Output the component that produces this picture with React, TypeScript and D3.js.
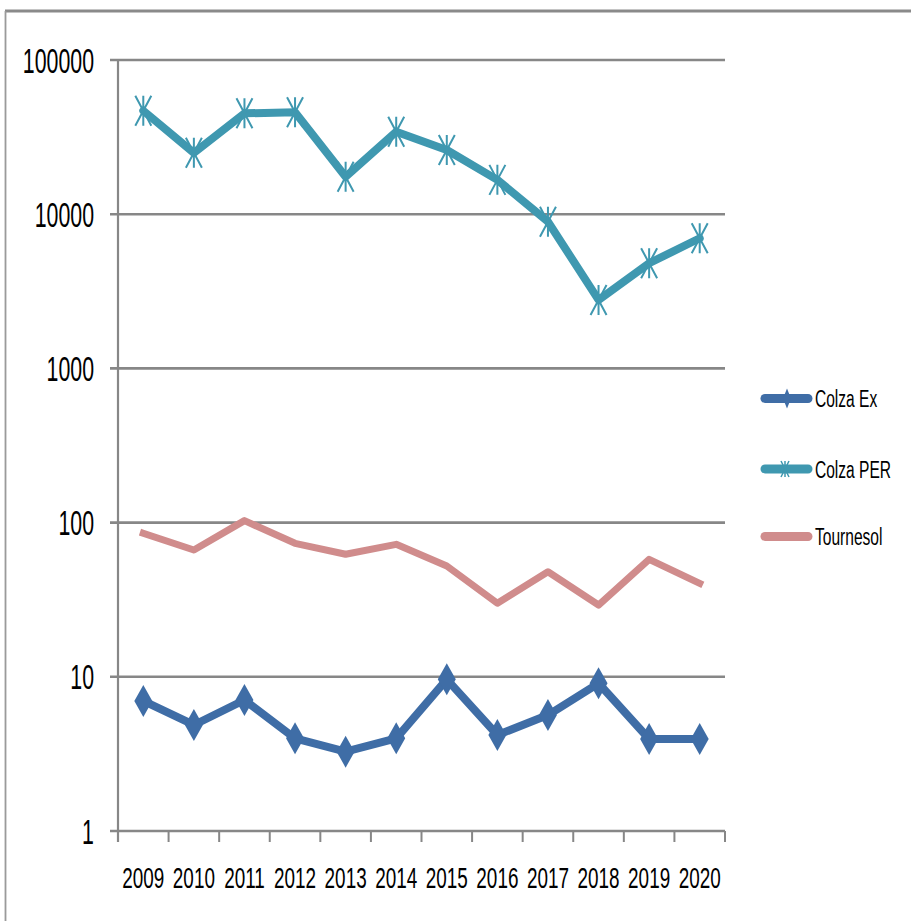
import React from 'react';
import * as d3 from 'd3';

const years = ['2009', '2010', '2011', '2012', '2013', '2014', '2015', '2016', '2017', '2018', '2019', '2020'];
const colzaEx = [6.97, 4.87, 7.07, 3.99, 3.27, 3.99, 9.63, 4.19, 5.65, 9.08, 3.95, 3.95];
const colzaPer = [46900, 25000, 45100, 45800, 17500, 34300, 26100, 16700, 8940, 2780, 4810, 6980];
const tournesol = [85.3, 66.4, 103, 73.4, 62.3, 72.3, 52.3, 30, 48, 29.2, 57.8, 40.4];
const yTicks = [1, 10, 100, 1000, 10000, 100000];
const seriesNames = ['Colza Ex', 'Colza PER', 'Tournesol'];

const W = 911;
const H = 921;
const left = 118;
const right = 725;
const top = 60;
const bottom = 831;
const FONT = 'Liberation Sans, Arial, sans-serif';
const GRID = '#878787';
const colors = ['#3F6DA6', '#3F98B0', '#D08C8C'];

const diamond = (hw: number, hh: number) => `M0,${-hh}L${hw},0L0,${hh}L${-hw},0Z`;
const star = (hw: number, hh: number) => `M0,${-hh}V${hh}M${-hw},${-hh}L${hw},${hh}M${hw},${-hh}L${-hw},${hh}`;

function SText({ x, y, size, sx, anchor, children }: any) {
  return (
    <text
      transform={`translate(${x},${y}) scale(${sx},1)`}
      fontFamily={FONT}
      fontSize={size}
      textAnchor={anchor}
      fill="#000"
    >
      {children}
    </text>
  );
}

export default function App() {
  const x = d3.scaleBand<string>().domain(years).range([left, right]).paddingInner(0).paddingOuter(0);
  const cx = (yr: string) => (x(yr) as number) + x.bandwidth() / 2;
  const y = d3.scaleLog().domain([1, 100000]).range([bottom, top]);
  const line = d3
    .line<number>()
    .x((_, i) => cx(years[i]))
    .y((v) => y(v));

  const series = [colzaEx, colzaPer, tournesol];
  const boundaries = [...years.map((yr) => x(yr) as number), right];
  const legendY = [398.5, 469, 536.5];

  return (
    <svg
      width={W}
      height={H}
      style={{ position: 'absolute', left: 0, top: 0, background: '#fff' }}
    >
      <rect x={0} y={0} width={W} height={H} fill="#fff" />
      {/* frame */}
      <line x1={5} y1={11} x2={W} y2={11} stroke="#8a8a8a" strokeWidth={3} />
      <line x1={5.5} y1={11} x2={5.5} y2={H} stroke="#9a9a9a" strokeWidth={1.8} />

      {/* gridlines */}
      {yTicks.map((t) => (
        <line key={t} x1={110} x2={right} y1={y(t)} y2={y(t)} stroke={GRID} strokeWidth={2.6} />
      ))}
      {/* y axis */}
      <line x1={left} x2={left} y1={top} y2={bottom + 11} stroke={GRID} strokeWidth={2.2} />
      {/* x ticks */}
      {boundaries.map((b, i) => (
        <line key={i} x1={b} x2={b} y1={bottom} y2={bottom + 11} stroke={GRID} strokeWidth={2} />
      ))}

      {/* y labels */}
      {yTicks.map((t) => (
        <SText key={t} x={94} y={y(t) + 12.5} size={35} sx={0.61} anchor="end">
          {String(t)}
        </SText>
      ))}
      {/* x labels */}
      {years.map((yr) => (
        <SText key={yr} x={cx(yr)} y={887.5} size={30} sx={0.63} anchor="middle">
          {yr}
        </SText>
      ))}

      {/* series */}
      {series.map((s, k) => (
        <path
          key={k}
          d={line(s) as string}
          fill="none"
          stroke={colors[k]}
          strokeWidth={k === 2 ? 7 : 8}
          strokeLinejoin="round"
          strokeLinecap={k === 2 ? 'square' : 'round'}
        />
      ))}
      {colzaEx.map((v, i) => (
        <path key={'d' + i} d={diamond(9, 16)} transform={`translate(${cx(years[i])},${y(v)})`} fill={colors[0]} />
      ))}
      {colzaPer.map((v, i) => (
        <path
          key={'s' + i}
          d={star(8, 15)}
          transform={`translate(${cx(years[i])},${y(v)})`}
          fill="none"
          stroke={colors[1]}
          strokeWidth={2}
        />
      ))}

      {/* legend */}
      {seriesNames.map((n, k) => (
        <g key={n}>
          <line
            x1={765}
            x2={808}
            y1={legendY[k]}
            y2={legendY[k]}
            stroke={colors[k]}
            strokeWidth={9}
            strokeLinecap="round"
          />
          {k === 0 && <path d={diamond(4, 10)} transform={`translate(787,${legendY[k]})`} fill={colors[0]} />}
          {k === 1 && (
            <path
              d={star(4, 8)}
              transform={`translate(785,${legendY[k]})`}
              fill="none"
              stroke={colors[1]}
              strokeWidth={1.5}
            />
          )}
          <SText x={815} y={legendY[k] + 8.8} size={24.7} sx={0.63} anchor="start">
            {n}
          </SText>
        </g>
      ))}
    </svg>
  );
}
